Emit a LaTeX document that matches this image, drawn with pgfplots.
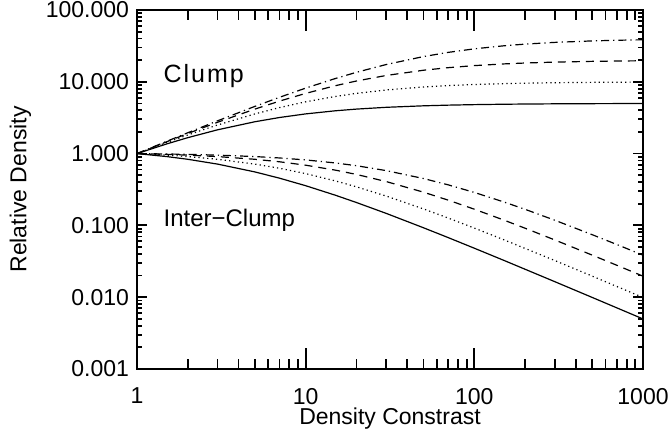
\documentclass[border=0pt]{standalone}
\usepackage{fontspec}
\setmainfont{Liberation Sans}
\usepackage{pgfplots}
\pgfplotsset{compat=1.18}
\usetikzlibrary{calc}
\begin{document}
\begin{tikzpicture}
\begin{axis}[
  xmode=log, ymode=log,
  width=253pt, height=179.5pt, scale only axis,
  xmin=1, xmax=1000, ymin=0.001, ymax=100,
  axis line style={line width=0.7pt},
  tick style={draw=none},
  major tick length=0pt, minor tick length=0pt,
  tick label style={font=\fontsize{11.5}{13}\selectfont},
  xtick={1,10,100,1000}, xticklabels={1,10,100,1000},
  ytick={0.001,0.01,0.1,1,10,100},
  yticklabels={0.001,0.010,0.100,1.000,10.000,100.000},
  xticklabel style={yshift=-6pt},
  yticklabel style={xshift=-0.5pt},
  xlabel={Density Constrast},
  xlabel style={font=\fontsize{11.5}{13}\selectfont, yshift=5pt},
  ylabel={Relative Density},
  ylabel style={font=\fontsize{11.5}{13}\selectfont, yshift=0.5pt},
  every axis plot/.append style={black, line width=0.6pt},
  tk/.style={black, solid, line width=0.9pt, forget plot},
]
% f = 0.2 (solid)
\addplot[solid] coordinates {(1,1)(1.5,1.3636)(2,1.6667)(3,2.1429)(5,2.7778)(7,3.1818)(10,3.5714)(15,3.9474)(20,4.1667)(30,4.4118)(50,4.6296)(70,4.7297)(100,4.8077)(150,4.8701)(200,4.9020)(300,4.9342)(500,4.9603)(700,4.9716)(1000,4.9801)};
\addplot[solid] coordinates {(1,1)(1.5,0.9091)(2,0.8333)(3,0.7143)(5,0.5556)(7,0.4545)(10,0.3571)(15,0.2632)(20,0.2083)(30,0.1471)(50,0.0926)(70,0.0676)(100,0.0481)(150,0.0325)(200,0.0245)(300,0.01645)(500,0.00992)(700,0.00710)(1000,0.00498)};
% f = 0.1 (dotted)
\addplot[dash pattern=on 0.6pt off 1.6pt] coordinates {(1,1)(1.5,1.4286)(2,1.8182)(3,2.5)(5,3.5714)(7,4.375)(10,5.2632)(15,6.25)(20,6.8966)(30,7.6923)(50,8.4746)(70,8.8608)(100,9.1743)(150,9.4340)(200,9.5694)(300,9.7087)(500,9.8232)(700,9.8731)(1000,9.9108)};
\addplot[dash pattern=on 0.6pt off 1.6pt] coordinates {(1,1)(1.5,0.9524)(2,0.9091)(3,0.8333)(5,0.7143)(7,0.625)(10,0.5263)(15,0.4167)(20,0.3448)(30,0.2564)(50,0.1695)(70,0.1266)(100,0.0917)(150,0.0629)(200,0.0478)(300,0.0324)(500,0.01965)(700,0.01410)(1000,0.00991)};
% f = 0.05 (dashed)
\addplot[dash pattern=on 4pt off 3pt] coordinates {(1,1)(1.5,1.4634)(2,1.9048)(3,2.7273)(5,4.1667)(7,5.3846)(10,6.8966)(15,8.8235)(20,10.2564)(30,12.2449)(50,14.4928)(70,15.7303)(100,16.8067)(150,17.7515)(200,18.2648)(300,18.8088)(500,19.2678)(700,19.4715)(1000,19.6271)};
\addplot[dash pattern=on 4pt off 3pt] coordinates {(1,1)(1.5,0.9756)(2,0.9524)(3,0.9091)(5,0.8333)(7,0.7692)(10,0.6897)(15,0.5882)(20,0.5128)(30,0.4082)(50,0.2899)(70,0.2247)(100,0.1681)(150,0.1183)(200,0.0913)(300,0.0627)(500,0.03854)(700,0.02782)(1000,0.01963)};
% f = 0.025 (dash-dot)
\addplot[dash pattern=on 4pt off 2pt on 0.6pt off 2pt] coordinates {(1,1)(1.5,1.4815)(2,1.9512)(3,2.8571)(5,4.5455)(7,6.0870)(10,8.1633)(15,11.1111)(20,13.5593)(30,17.3913)(50,22.4719)(70,25.6881)(100,28.7770)(150,31.7460)(200,33.4728)(300,35.3982)(500,37.1058)(700,37.8890)(1000,38.4986)};
\addplot[dash pattern=on 4pt off 2pt on 0.6pt off 2pt] coordinates {(1,1)(1.5,0.9877)(2,0.9756)(3,0.9524)(5,0.9091)(7,0.8696)(10,0.8163)(15,0.7407)(20,0.6780)(30,0.5797)(50,0.4494)(70,0.3670)(100,0.2878)(150,0.2116)(200,0.1674)(300,0.1180)(500,0.07421)(700,0.05413)(1000,0.03850)};
% tick marks (IDL style, inward on all four sides)
\pgfplotsinvokeforeach{10,100}{
  \addplot[tk] coordinates {(#1,0.001)(#1,0.0019607)};
  \addplot[tk] coordinates {(#1,100)(#1,51.0)};
}
\pgfplotsinvokeforeach{2,3,4,5,6,7,8,9,20,30,40,50,60,70,80,90,200,300,400,500,600,700,800,900}{
  \addplot[tk] coordinates {(#1,0.001)(#1,0.0013783)};
  \addplot[tk] coordinates {(#1,100)(#1,72.55)};
}
\pgfplotsinvokeforeach{0.01,0.1,1,10}{
  \addplot[tk] coordinates {(1,#1)(1.1463,#1)};
  \addplot[tk] coordinates {(1000,#1)(872.4,#1)};
}
\pgfplotsinvokeforeach{0.002,0.003,0.004,0.005,0.006,0.007,0.008,0.009,0.02,0.03,0.04,0.05,0.06,0.07,0.08,0.09,0.2,0.3,0.4,0.5,0.6,0.7,0.8,0.9,2,3,4,5,6,7,8,9,20,30,40,50,60,70,80,90}{
  \addplot[tk] coordinates {(1,#1)(1.0707,#1)};
  \addplot[tk] coordinates {(1000,#1)(934.0,#1)};
}
\node[anchor=base west, inner sep=0pt, font=\fontsize{12.5}{14}\selectfont\addfontfeature{LetterSpace=8}] at (axis cs:1.43,9.9) {Clump};
\node[anchor=base west, inner sep=0pt, font=\fontsize{12}{14}\selectfont] at (axis cs:1.43,0.098) {Inter−Clump};
\end{axis}
\pgfresetboundingbox
\path[use as bounding box] ($(current axis.south west)+(-68.5pt,-31.5pt)$) rectangle ($(current axis.north east)+(13pt,5pt)$);
\end{tikzpicture}
\end{document}
